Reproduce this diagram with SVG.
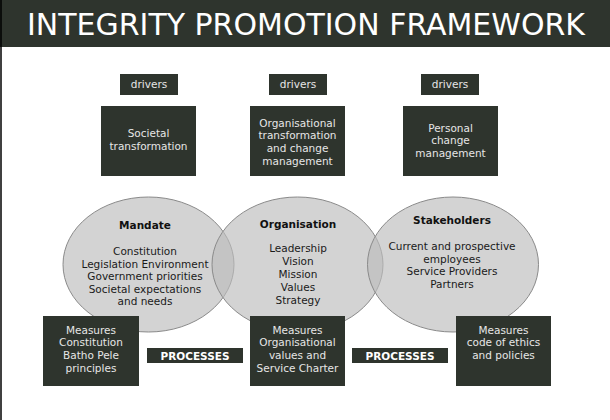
<svg xmlns="http://www.w3.org/2000/svg" width="610" height="420" viewBox="0 0 610 420">
<style>
  text { font-family: "DejaVu Sans", Verdana, sans-serif; text-anchor: middle; }
  .box { fill: #2e342d; }
  .bt { fill: #e6e6e6; font-size: 10.5px; }
  .pt { fill: #ffffff; font-size: 10.5px; font-weight: bold; }
  .ell { fill: #bcbcbc; fill-opacity: 0.66; stroke: #8a8a8a; stroke-width: 1; }
  .et { fill: #1a1a1a; font-size: 10.5px; }
  .eh { fill: #111111; font-size: 10.5px; font-weight: bold; }
</style>
<rect x="0" y="0" width="610" height="420" fill="#ffffff"/>
<g id="title">
  <rect x="0" y="0" width="610" height="47" class="box"/>
  <text x="306" y="35" fill="#ffffff" font-size="30" textLength="558" lengthAdjust="spacingAndGlyphs">INTEGRITY PROMOTION FRAMEWORK</text>
</g>
<line x1="1" y1="0" x2="1" y2="420" stroke="#000000" stroke-width="1.5"/>
<g id="connectors"></g>
<g id="ellipse-mandate">
  <ellipse cx="148.5" cy="264.5" rx="85.5" ry="67.5" class="ell"/>
  <text x="145" y="229" class="eh">Mandate</text>
  <text x="145" y="255" class="et">Constitution</text>
  <text x="145" y="267.5" class="et">Legislation Environment</text>
  <text x="145" y="280" class="et">Government priorities</text>
  <text x="145" y="292.5" class="et">Societal expectations</text>
  <text x="145" y="305" class="et">and needs</text>
</g>
<g id="ellipse-organisation">
  <ellipse cx="297.5" cy="264.5" rx="85.5" ry="67.5" class="ell"/>
  <text x="298" y="228" class="eh">Organisation</text>
  <text x="298" y="252" class="et">Leadership</text>
  <text x="298" y="265" class="et">Vision</text>
  <text x="298" y="278" class="et">Mission</text>
  <text x="298" y="291" class="et">Values</text>
  <text x="298" y="304" class="et">Strategy</text>
</g>
<g id="ellipse-stakeholders">
  <ellipse cx="453" cy="264.5" rx="85.5" ry="67.5" class="ell"/>
  <text x="452" y="224" class="eh">Stakeholders</text>
  <text x="452" y="250" class="et">Current and prospective</text>
  <text x="452" y="262.5" class="et">employees</text>
  <text x="452" y="275" class="et">Service Providers</text>
  <text x="452" y="288" class="et">Partners</text>
</g>
<g id="drivers-1">
  <rect x="120" y="74" width="58" height="21" class="box"/>
  <text x="149" y="88" class="bt">drivers</text>
</g>
<g id="drivers-2">
  <rect x="269" y="74" width="58" height="21" class="box"/>
  <text x="298" y="88" class="bt">drivers</text>
</g>
<g id="drivers-3">
  <rect x="421" y="74" width="58" height="21" class="box"/>
  <text x="450" y="88" class="bt">drivers</text>
</g>
<g id="societal">
  <rect x="101" y="106" width="95" height="70" class="box"/>
  <text x="148.5" y="137" class="bt">Societal</text>
  <text x="148.5" y="150" class="bt">transformation</text>
</g>
<g id="organisational">
  <rect x="250" y="106" width="95" height="70" class="box"/>
  <text x="297.5" y="126.5" class="bt">Organisational</text>
  <text x="297.5" y="139" class="bt">transformation</text>
  <text x="297.5" y="152" class="bt">and change</text>
  <text x="297.5" y="165" class="bt">management</text>
</g>
<g id="personal">
  <rect x="403" y="106" width="95" height="70" class="box"/>
  <text x="450.5" y="131.5" class="bt">Personal</text>
  <text x="450.5" y="144" class="bt">change</text>
  <text x="450.5" y="157" class="bt">management</text>
</g>
<g id="measures-1">
  <rect x="43" y="316" width="96" height="70" class="box"/>
  <text x="91" y="333.5" class="bt">Measures</text>
  <text x="91" y="346" class="bt">Constitution</text>
  <text x="91" y="359" class="bt">Batho Pele</text>
  <text x="91" y="371.5" class="bt">principles</text>
</g>
<g id="processes-1">
  <rect x="147" y="348" width="96" height="15" class="box"/>
  <text x="195" y="359.5" class="pt">PROCESSES</text>
</g>
<g id="measures-2">
  <rect x="250" y="316" width="95" height="70" class="box"/>
  <text x="297.5" y="333.5" class="bt">Measures</text>
  <text x="297.5" y="346" class="bt">Organisational</text>
  <text x="297.5" y="359" class="bt">values and</text>
  <text x="297.5" y="371.5" class="bt">Service Charter</text>
</g>
<g id="processes-2">
  <rect x="352" y="348" width="96" height="15" class="box"/>
  <text x="400" y="359.5" class="pt">PROCESSES</text>
</g>
<g id="measures-3">
  <rect x="456" y="316" width="95" height="70" class="box"/>
  <text x="503.5" y="333.5" class="bt">Measures</text>
  <text x="503.5" y="346" class="bt">code of ethics</text>
  <text x="503.5" y="359" class="bt">and policies</text>
</g>
</svg>
